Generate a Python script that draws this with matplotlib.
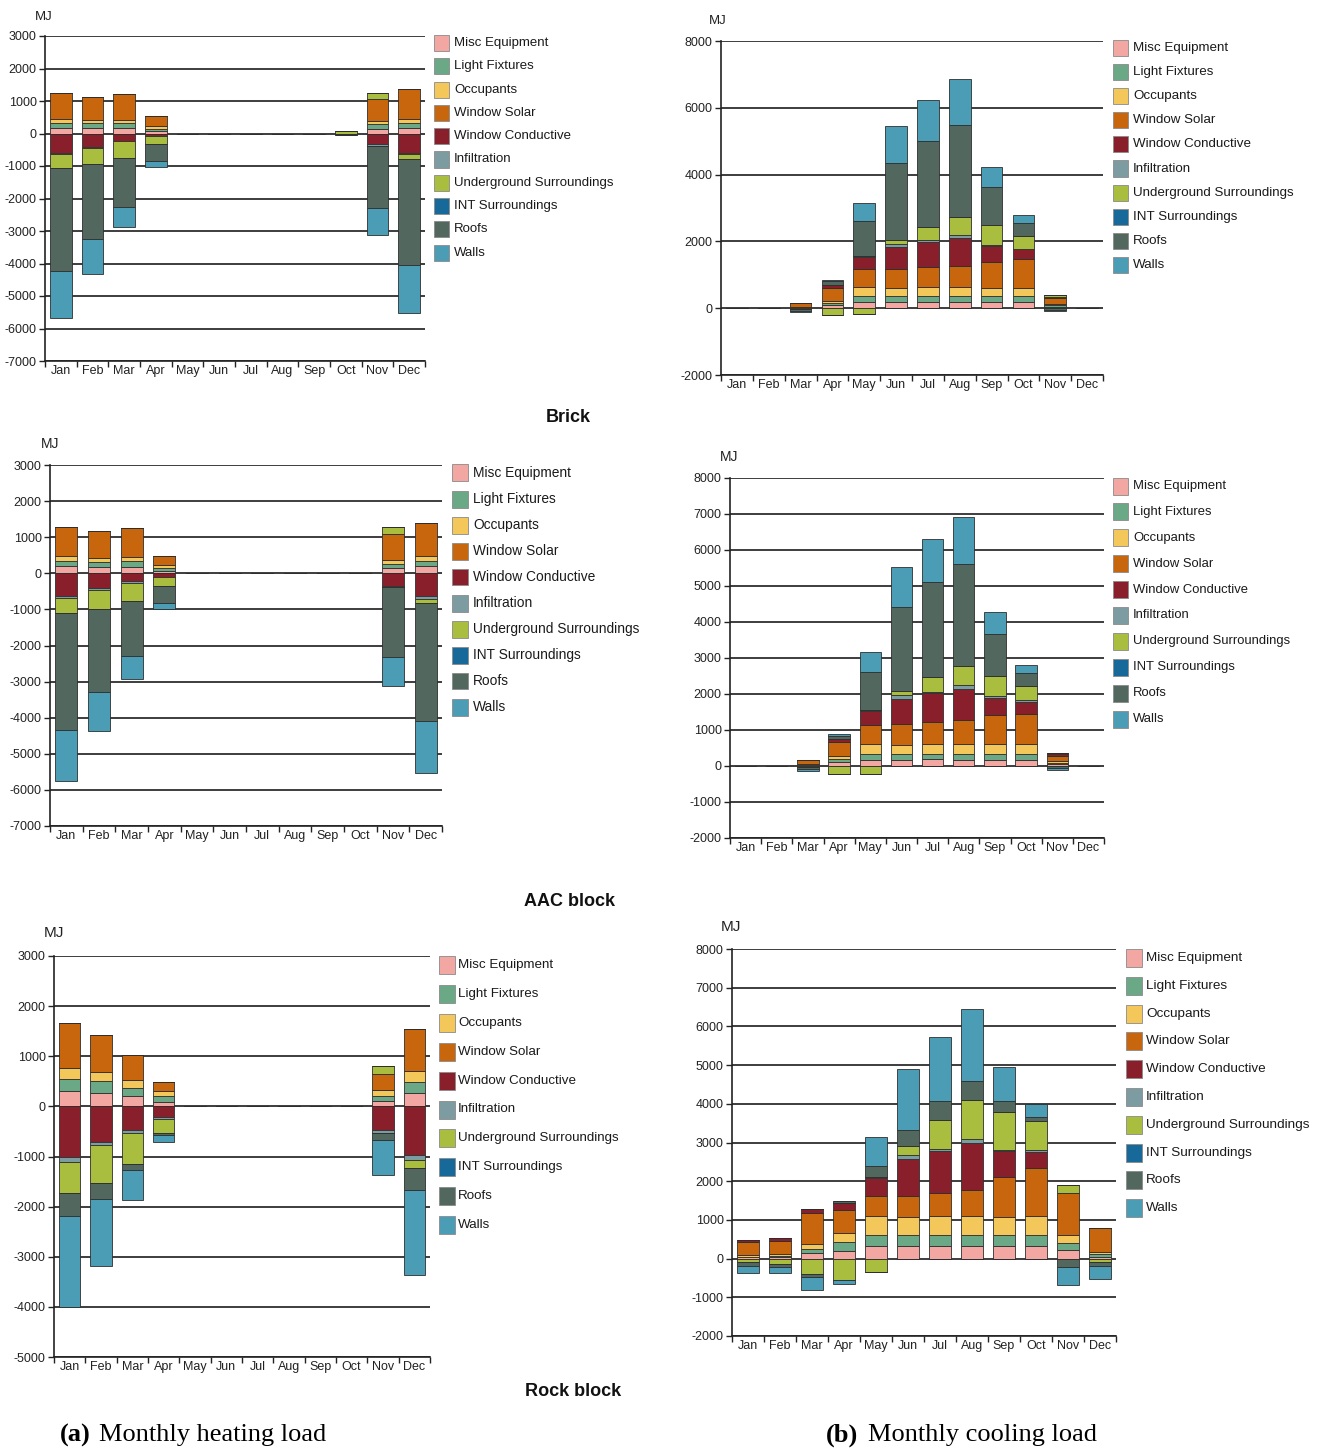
import matplotlib
matplotlib.use("Agg")
import matplotlib.pyplot as plt
from matplotlib.patches import Rectangle
import numpy as np

plt.rcParams["font.family"] = ["Liberation Sans", "DejaVu Sans"]
plt.rcParams["axes.unicode_minus"] = False

MONTHS = ["Jan", "Feb", "Mar", "Apr", "May", "Jun", "Jul", "Aug", "Sep", "Oct", "Nov", "Dec"]

COMPONENTS = ["Misc Equipment", "Light Fixtures", "Occupants", "Window Solar",
              "Window Conductive", "Infiltration", "Underground Surroundings",
              "INT Surroundings", "Roofs", "Walls"]

COLORS = ["#f2a7a3", "#6aa886", "#f4c75a", "#c7660c", "#8a1f2c",
          "#7d9ca2", "#a9bd3e", "#17699a", "#52685f", "#4b9db6"]

# Rows follow COMPONENTS, columns follow MONTHS (MJ)
BRICK_HEATING = [
    [180, 180, 180, 90, 0, 0, 0, 0, 0, 0, 150, 180],
    [140, 140, 140, 60, 0, 0, 0, 0, 0, 0, 130, 140],
    [130, 90, 90, 70, 0, 0, 0, 0, 0, 0, 100, 140],
    [800, 720, 800, 310, 0, 0, 0, 0, 0, 0, 690, 900],
    [-615, -430, -225, -80, 0, 0, 0, 0, 0, 0, -330, -615],
    [-20, -20, -15, -10, 0, 0, 0, 0, 0, 0, -40, -20],
    [-440, -490, -510, -240, 0, 0, 0, 0, 0, 70, 170, -150],
    [0, 0, 0, 0, 0, 0, 0, 0, 0, 0, 0, 0],
    [-3160, -2310, -1505, -510, 0, 0, 0, 0, 0, -50, -1920, -3265],
    [-1435, -1080, -615, -200, 0, 0, 0, 0, 0, 0, -840, -1470],
]

BRICK_COOLING = [
    [0, 0, 10, 100, 190, 190, 190, 190, 190, 190, 50, 0],
    [0, 0, 10, 50, 180, 180, 180, 180, 180, 180, 40, 0],
    [0, 0, 10, 80, 270, 230, 270, 270, 230, 230, 40, 0],
    [0, 0, 130, 360, 530, 570, 605, 625, 795, 885, 170, 0],
    [0, 0, 0, 100, 350, 665, 745, 845, 470, 280, 50, 0],
    [0, 0, 0, 0, 50, 80, 50, 70, 30, 20, 0, 0],
    [0, 0, -30, -200, -180, 130, 400, 550, 595, 380, 40, 0],
    [0, 0, 0, 0, 0, 0, 0, 0, 0, 0, 0, 0],
    [0, 0, -40, 110, 1045, 2310, 2555, 2765, 1145, 380, -50, 0],
    [0, 0, -40, 40, 520, 1115, 1225, 1365, 600, 250, -30, 0],
]

AAC_HEATING = [
    [200, 165, 185, 75, 0, 0, 0, 0, 0, 0, 140, 210],
    [140, 140, 155, 65, 0, 0, 0, 0, 0, 0, 120, 140],
    [150, 110, 120, 90, 0, 0, 0, 0, 0, 0, 110, 140],
    [780, 755, 785, 260, 0, 0, 0, 0, 0, 0, 720, 910],
    [-620, -415, -210, -90, 0, 0, 0, 0, 0, 0, -340, -620],
    [-70, -45, -45, -10, 0, 0, 0, 0, 0, 0, -40, -90],
    [-415, -535, -525, -240, 0, 0, 0, 0, 0, 0, 200, -120],
    [0, 0, 0, 0, 0, 0, 0, 0, 0, 0, 0, 0],
    [-3225, -2295, -1505, -490, 0, 0, 0, 0, 0, 0, -1925, -3250],
    [-1430, -1070, -635, -165, 0, 0, 0, 0, 0, 0, -810, -1465],
]

AAC_COOLING = [
    [0, 0, 15, 120, 175, 175, 205, 175, 175, 175, 50, 0],
    [0, 0, 15, 70, 165, 165, 140, 165, 165, 165, 40, 0],
    [0, 0, 15, 100, 280, 250, 280, 280, 280, 280, 40, 0],
    [0, 0, 130, 370, 530, 585, 605, 650, 790, 835, 160, 0],
    [0, 0, 0, 100, 380, 695, 790, 880, 490, 325, 40, 0],
    [0, 0, 0, 0, 20, 95, 45, 110, 40, 45, 0, 0],
    [0, 0, -30, -220, -215, 120, 400, 520, 565, 400, 40, 0],
    [0, 0, 0, 0, 0, 0, 0, 0, 0, 0, 0, 0],
    [0, 0, -60, 80, 1070, 2340, 2635, 2830, 1150, 345, -60, 0],
    [0, 0, -50, 40, 555, 1105, 1205, 1320, 630, 230, -60, 0],
]

ROCK_HEATING = [
    [300, 265, 200, 85, 0, 0, 0, 0, 0, 0, 100, 265],
    [240, 235, 165, 115, 0, 0, 0, 0, 0, 0, 100, 220],
    [235, 185, 155, 100, 0, 0, 0, 0, 0, 0, 120, 230],
    [895, 730, 510, 185, 0, 0, 0, 0, 0, 0, 325, 830],
    [-1010, -715, -465, -215, 0, 0, 0, 0, 0, 0, -465, -975],
    [-100, -65, -65, -30, 0, 0, 0, 0, 0, 0, -65, -100],
    [-615, -745, -620, -285, 0, 0, 0, 0, 0, 0, 165, -155],
    [0, 0, 0, 0, 0, 0, 0, 0, 0, 0, 0, 0],
    [-465, -320, -115, -35, 0, 0, 0, 0, 0, 0, -145, -445],
    [-1810, -1340, -600, -150, 0, 0, 0, 0, 0, 0, -685, -1695],
]

ROCK_COOLING = [
    [30, 40, 140, 200, 330, 330, 330, 330, 330, 330, 225, 50],
    [20, 30, 120, 240, 285, 285, 285, 285, 285, 285, 170, 60],
    [40, 40, 120, 215, 490, 450, 490, 490, 450, 490, 215, 70],
    [330, 345, 795, 605, 515, 560, 585, 670, 1035, 1235, 1075, 600],
    [60, 70, 110, 170, 475, 955, 1080, 1205, 670, 405, 0, 0],
    [0, 0, 0, 0, 25, 85, 60, 105, 45, 70, 0, 0],
    [-100, -145, -405, -550, -335, 235, 760, 1015, 965, 735, 205, -80],
    [0, 0, 0, 0, 0, 0, 0, 0, 0, 0, 0, 0],
    [-85, -60, -80, 60, 285, 430, 475, 500, 285, 110, -205, -100],
    [-190, -170, -330, -110, 725, 1560, 1670, 1845, 880, 345, -490, -350],
]

W, H = 1320, 1450
fig = plt.figure(figsize=(W / 100, H / 100), dpi=100)


def fx(x):
    return x / W


def fy(y):
    return 1 - y / H


def axes_px(left, top, right, bottom):
    return fig.add_axes([fx(left), fy(bottom), (right - left) / W, (bottom - top) / H])


def draw_panel(ax, data, ylim, ystep):
    data = np.array(data, dtype=float)
    x = np.arange(len(MONTHS))
    pos_base = np.zeros(len(MONTHS))
    neg_base = np.zeros(len(MONTHS))
    for vals, color in zip(data, COLORS):
        pos = np.where(vals > 0, vals, 0)
        neg = np.where(vals < 0, vals, 0)
        ax.bar(x, pos, bottom=pos_base, width=0.68, color=color,
               edgecolor="#2e2e2e", linewidth=0.6, zorder=3)
        ax.bar(x, neg, bottom=neg_base, width=0.68, color=color,
               edgecolor="#2e2e2e", linewidth=0.6, zorder=3)
        pos_base += pos
        neg_base += neg
    ax.set_xlim(-0.5, 11.5)
    ax.set_ylim(*ylim)
    ax.set_yticks(np.arange(ylim[0], ylim[1] + 1, ystep))
    ax.set_xticks(np.arange(-0.5, 12, 1))
    ax.set_xticklabels([])
    ax.set_xticks(x, minor=True)
    ax.set_xticklabels(MONTHS, minor=True, fontsize=9, color="#222222")
    ax.tick_params(axis="x", which="major", length=4, width=1, color="#222222")
    ax.tick_params(axis="x", which="minor", length=0, pad=3)
    ax.tick_params(axis="y", length=4, width=1, color="#222222", labelsize=9,
                   labelcolor="#222222", pad=2)
    ax.yaxis.grid(True, color="#1c1c1c", linewidth=1.2)
    ax.set_axisbelow(True)
    for s in ("top", "right"):
        ax.spines[s].set_visible(False)
    for s in ("left", "bottom"):
        ax.spines[s].set_color("#222222")
        ax.spines[s].set_linewidth(1.2)
    ax.set_facecolor("white")


def draw_legend(sw_left, first_y, step, sw_w, sw_h, text_x, size):
    for i, (name, color) in enumerate(zip(COMPONENTS, COLORS)):
        cy = first_y + i * step
        fig.patches.append(Rectangle((fx(sw_left), fy(cy + sw_h / 2)), sw_w / W, sw_h / H,
                                     transform=fig.transFigure, facecolor=color,
                                     edgecolor="#8a8a8a", linewidth=0.6))
        fig.text(fx(text_x), fy(cy), name, fontsize=size, va="center", ha="left",
                 color="#1a1a1a")


panels = [
    (BRICK_HEATING, (45, 36, 425, 361), (-7000, 3000), 1000, (44, 17), 9.5,
     (434, 43, 23.3, 15, 16, 454, 9.5)),
    (BRICK_COOLING, (721, 41, 1103, 375), (-2000, 8000), 2000, (718, 21), 9.5,
     (1113, 48, 24.1, 15, 16, 1133, 9.6)),
    (AAC_HEATING, (50, 465, 442, 826), (-7000, 3000), 1000, (50, 444), 10,
     (452, 473, 26.0, 16, 17, 473, 9.9)),
    (AAC_COOLING, (730, 478, 1104, 838), (-2000, 8000), 1000, (729, 457), 10,
     (1113, 486, 25.9, 15, 17, 1133, 9.4)),
    (ROCK_HEATING, (54, 956, 430, 1357), (-5000, 3000), 1000, (54, 933), 11,
     (439, 965, 28.9, 16, 18, 458, 9.6)),
    (ROCK_COOLING, (732, 949, 1116, 1336), (-2000, 8000), 1000, (731, 927), 11,
     (1126, 958, 27.8, 16, 18, 1146, 9.7)),
]

for data, box, ylim, ystep, mj, mj_size, leg in panels:
    ax = axes_px(*box)
    draw_panel(ax, data, ylim, ystep)
    fig.text(fx(mj[0]), fy(mj[1]), "MJ", fontsize=mj_size, ha="center", va="center",
             color="#222222")
    draw_legend(*leg)

for label, (x, y) in [("Brick", (568, 418)), ("AAC block", (569, 902)),
                      ("Rock block", (573, 1391))]:
    fig.text(fx(x), fy(y), label, fontsize=13, fontweight="bold", ha="center",
             va="center", color="#111111")

serif = ["Liberation Serif", "DejaVu Serif"]
fig.text(fx(60), fy(1435), "(a)", fontsize=19, fontweight="bold", family=serif,
         ha="left", va="center")
fig.text(fx(99), fy(1435), "Monthly heating load", fontsize=19, family=serif,
         ha="left", va="center")
fig.text(fx(826), fy(1435), "(b)", fontsize=19, fontweight="bold", family=serif,
         ha="left", va="center")
fig.text(fx(868), fy(1435), "Monthly cooling load", fontsize=19, family=serif,
         ha="left", va="center")

fig.savefig("out.png", dpi=100, facecolor="white")
